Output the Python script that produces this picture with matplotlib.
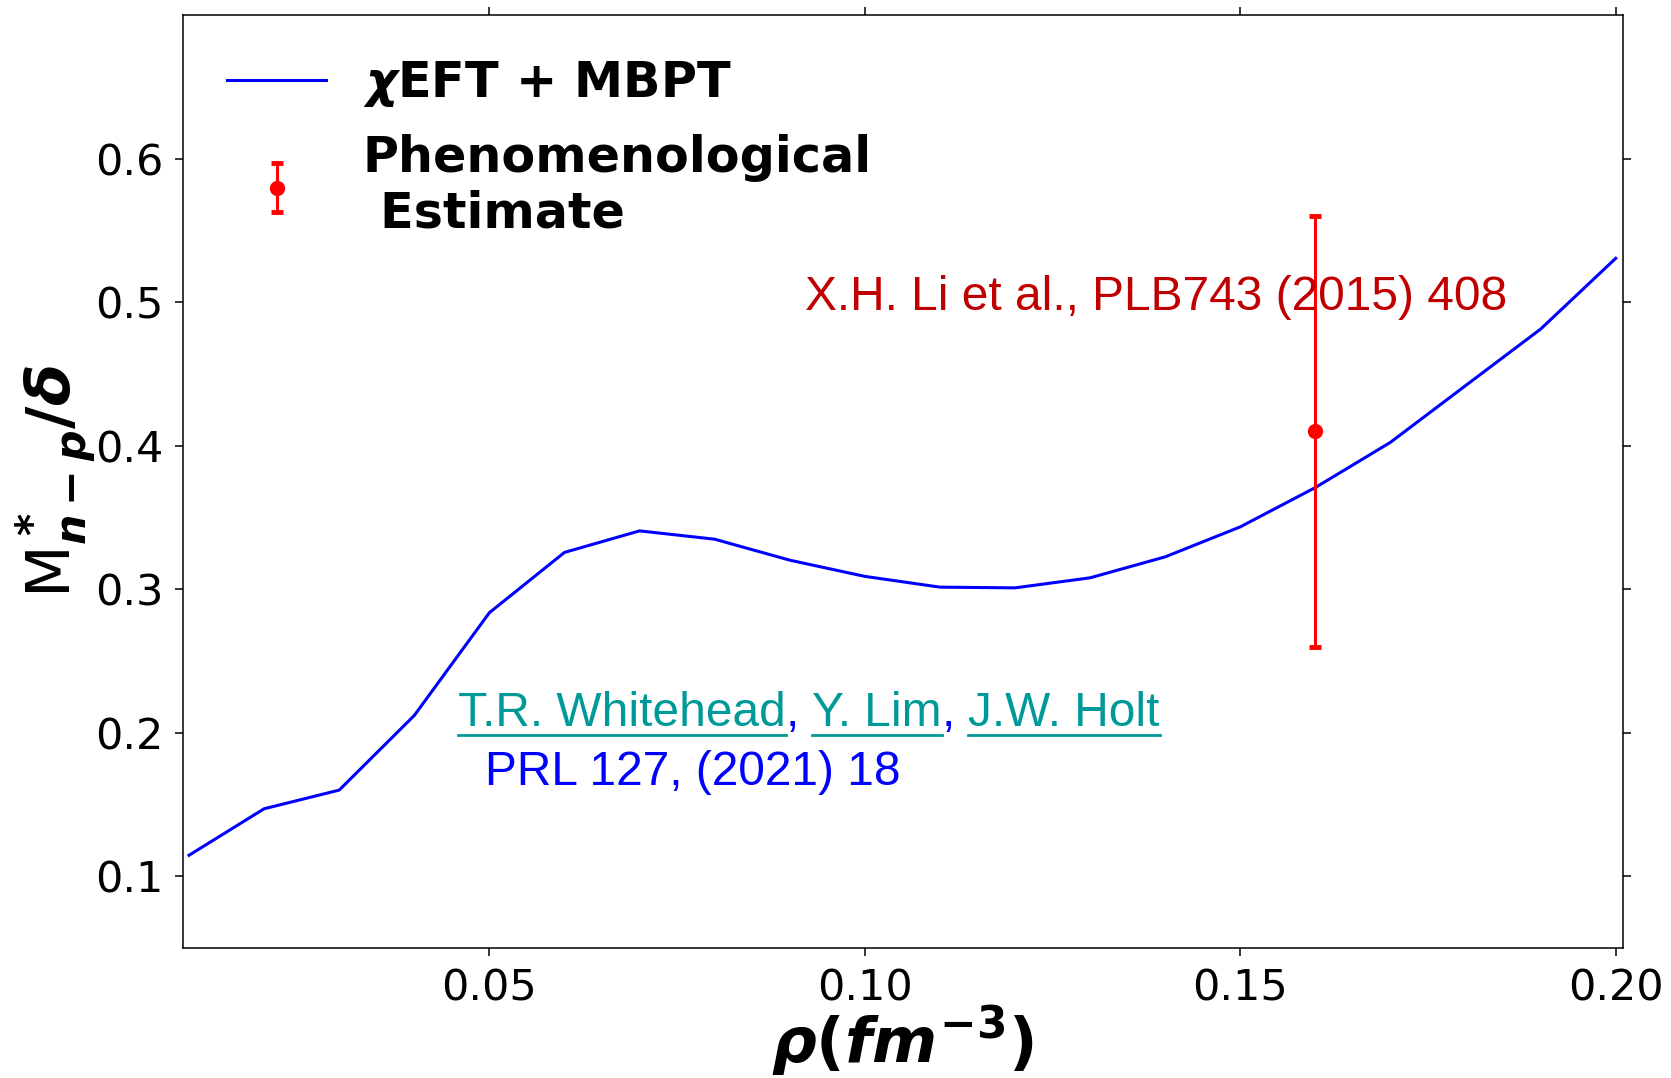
import matplotlib
matplotlib.use("Agg")
import matplotlib.pyplot as plt
from matplotlib.lines import Line2D

plt.rcParams['mathtext.fontset'] = 'custom'
plt.rcParams['mathtext.it'] = 'DejaVu Sans:italic:bold'
plt.rcParams['mathtext.rm'] = 'DejaVu Sans:bold'
plt.rcParams['mathtext.bf'] = 'DejaVu Sans:bold'
plt.rcParams['mathtext.sf'] = 'DejaVu Sans:bold'

# ---- data ----
rho = [0.01, 0.02, 0.03, 0.04, 0.05, 0.06, 0.07, 0.08, 0.09, 0.10,
       0.11, 0.12, 0.13, 0.14, 0.15, 0.16, 0.17, 0.18, 0.19, 0.20]
msplit = [0.1146, 0.147, 0.160, 0.212, 0.2836, 0.3256, 0.3406, 0.3348, 0.3202, 0.3089,
          0.3014, 0.3009, 0.3079, 0.3225, 0.3434, 0.3708, 0.4023, 0.4418, 0.4812, 0.5305]
pheno_x = [0.16]
pheno_y = [0.41]
pheno_err = [0.15]

line_label = r'$\chi$EFT + MBPT'
pheno_label = 'Phenomenological\n Estimate'
ref_li = 'X.H. Li et al., PLB743 (2015) 408'
authors = ['T.R. Whitehead', ', ', 'Y. Lim', ', ', 'J.W. Holt']
ref_prl = 'PRL 127, (2021) 18'

fig = plt.figure(figsize=(16.71, 10.78), dpi=100)
ax = fig.add_axes([183/1671, 1 - 948/1078, (1622.5 - 183)/1671, (948 - 15)/1078])

ax.plot(rho, msplit, color='blue', lw=2.2, label=line_label)
ax.errorbar(pheno_x, pheno_y, yerr=pheno_err, fmt='o', color='red', ms=10,
            elinewidth=2.2, capsize=4, capthick=3.5, label=pheno_label)

ax.set_xlim(0.0092, 0.2009)
ax.set_ylim(0.05, 0.70)
ax.set_xticks([0.05, 0.10, 0.15, 0.20])
ax.set_yticks([0.1, 0.2, 0.3, 0.4, 0.5, 0.6])
ax.tick_params(axis='both', which='major', direction='out', length=6, width=1.1,
               labelsize=31, top=True, right=True, pad=8)
for s in ax.spines.values():
    s.set_linewidth(1.1)

ax.set_xlabel(r'$\rho(fm^{-3})$', fontsize=45, labelpad=-4)
ax.set_ylabel(r'M$^*_{n-p}/\delta$', fontsize=44, labelpad=-2)

leg = ax.legend(loc='upper left', frameon=False, handletextpad=0.75,
                prop={'weight': 'bold', 'size': 35.5})

txt_font = dict(family=['Liberation Sans', 'DejaVu Sans'], fontsize=34.5)
ax.text(0.0920, 0.4948, ref_li, color='#c00000', ha='left', va='baseline', **txt_font)
ax.text(0.0494, 0.1633, ref_prl, color='blue', ha='left', va='baseline', **txt_font)

# authors line with underlines
fig.canvas.draw()
renderer = fig.canvas.get_renderer()
x_disp, y_disp = ax.transData.transform((0.0458, 0.2048))
inv = ax.transData.inverted()
for i, part in enumerate(authors):
    col = '#009999' if i % 2 == 0 else 'blue'
    xd, yd = inv.transform((x_disp, y_disp))
    t = ax.text(xd, yd, part, color=col, ha='left', va='baseline', **txt_font)
    bb = t.get_window_extent(renderer)
    if i % 2 == 0:
        ul_y = y_disp - 9.5
        p0 = inv.transform((bb.x0, ul_y))
        p1 = inv.transform((bb.x1, ul_y))
        ax.add_line(Line2D([p0[0], p1[0]], [p0[1], p1[1]], color=col, lw=2.0))
    x_disp = bb.x1

fig.savefig('out.png', dpi=100)
